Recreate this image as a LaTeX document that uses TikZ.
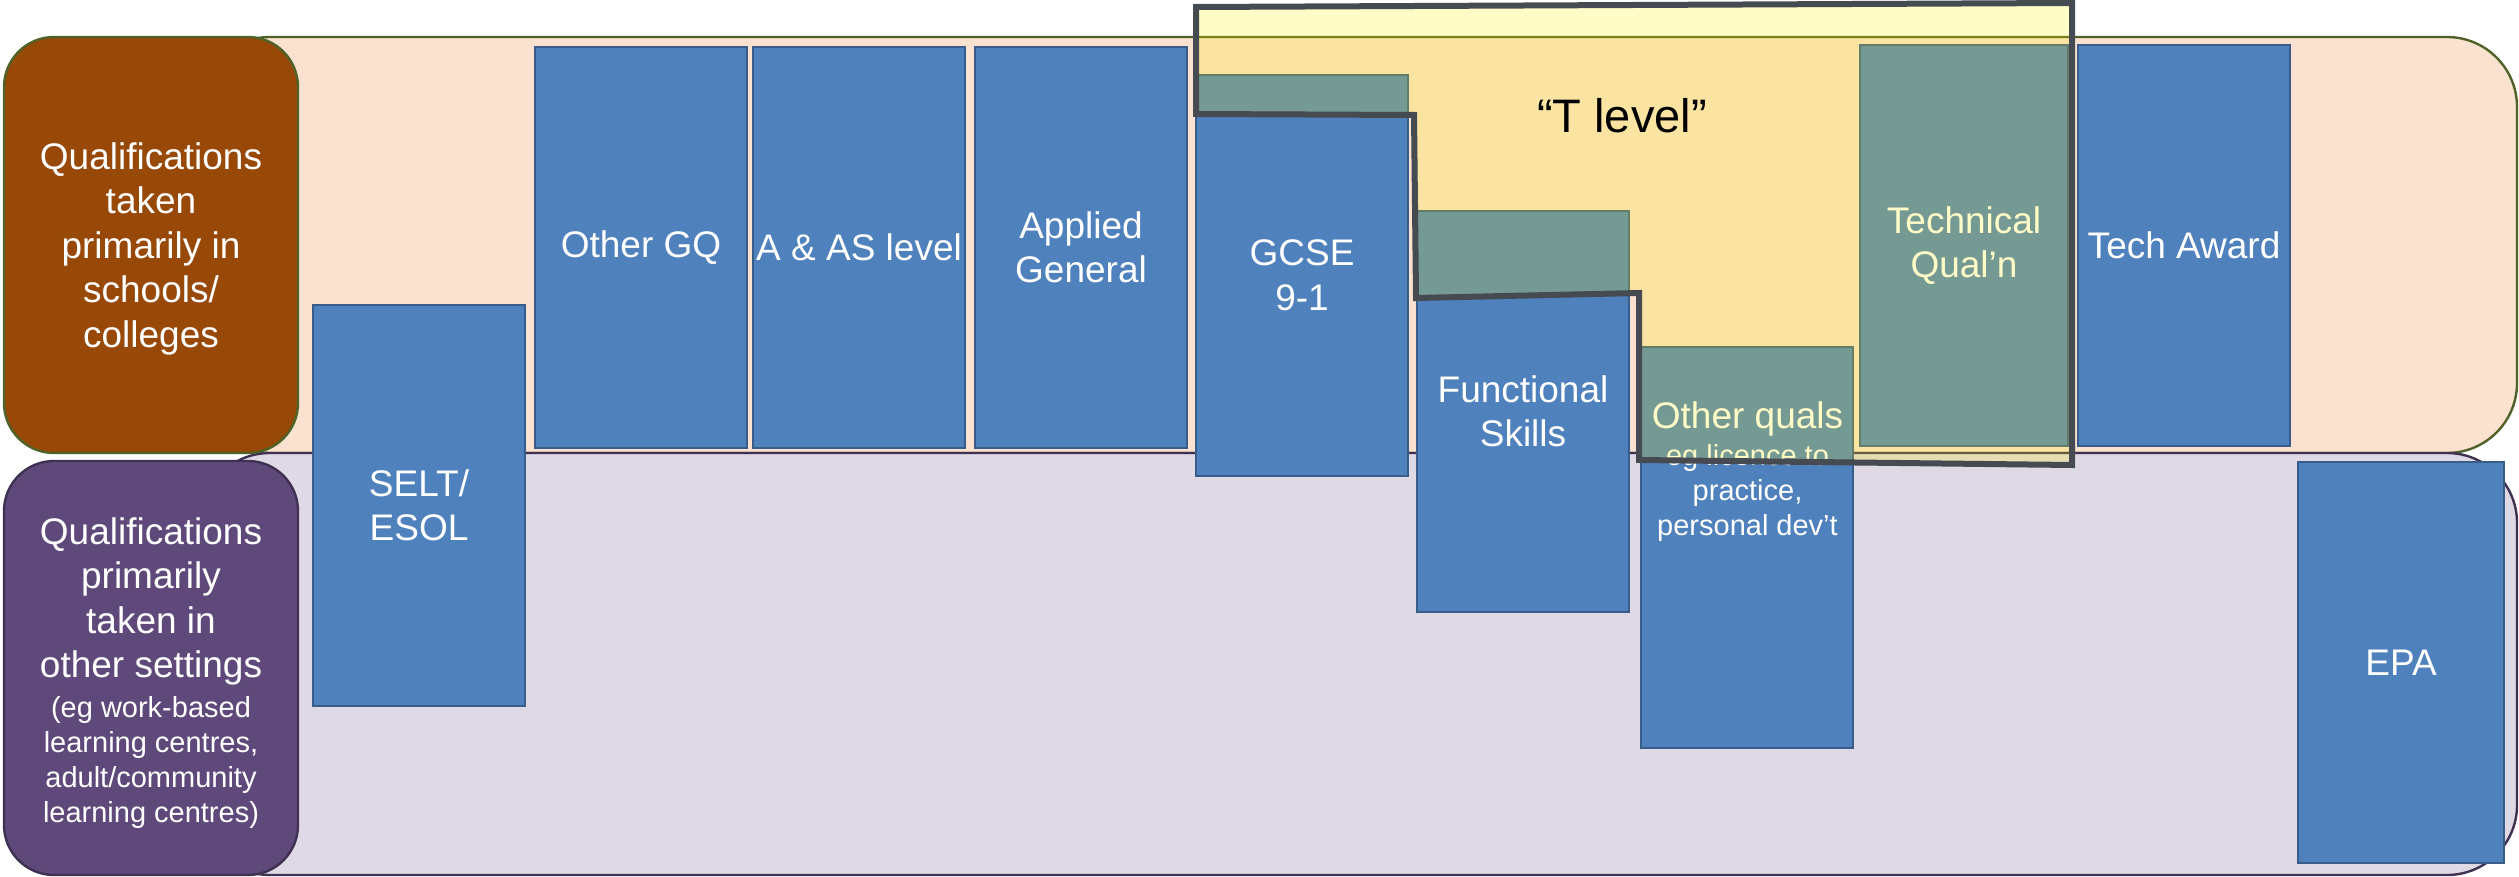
\documentclass[tikz,border=0pt]{standalone}
\usepackage{fontspec}
\setmainfont{Liberation Sans}
\definecolor{peach}{HTML}{FAE1D0}
\definecolor{peachline}{HTML}{4F6228}
\definecolor{lav}{HTML}{DFD9E6}
\definecolor{lavline}{HTML}{3F3151}
\definecolor{brownbox}{HTML}{984807}
\definecolor{purplebox}{HTML}{5F497A}
\definecolor{qblue}{HTML}{4F81BD}
\definecolor{qblueline}{HTML}{385D8A}
\definecolor{tline}{HTML}{464B52}
\newcommand\qbigfont{\fontsize{18.5}{22.25}\selectfont}
\newcommand\qsmallfont{\fontsize{14.5}{17.6}\selectfont}
\newcommand\qtfont{\fontsize{23.5}{28}\selectfont}
\tikzset{
  band/.style={line width=1.2pt, rounded corners=35pt},
  qbox/.style={draw=qblueline, fill=qblue, line width=1.2pt, minimum width=106pt,
    minimum height=200.5pt, inner sep=0pt, outer sep=0pt, anchor=north west,
    text=white, align=center, font=\qbigfont},
  labelbox/.style={line width=1.2pt, rounded corners=25pt, minimum width=147pt,
    inner sep=0pt, outer sep=0pt, text=white, align=center, font=\qbigfont},
  qtext/.style={text=white, align=center, inner sep=0pt, outer sep=0pt},
  tlevelzone/.style={fill=yellow, fill opacity=0.22, draw=tline, line width=3pt}
}
\begin{document}
\begin{tikzpicture}[x=0.5pt,y=-0.5pt]
\useasboundingbox (0,0) rectangle (2519,877);
% bands
\draw[band, fill=peach, draw=peachline] (200,37) rectangle (2517,453);
\draw[band, fill=lav, draw=lavline] (200,453) rectangle (2517,875);
% label boxes
\node[labelbox, fill=brownbox, draw=peachline, minimum height=208pt] (school) at (151,245) {};
\node[qtext, font=\qbigfont, anchor=north] (schooltext) at (151,142.5)
  {Qualifications\\taken\\primarily in\\schools/\\colleges};
\node[labelbox, fill=purplebox, draw=lavline, minimum height=207pt] (other) at (151,668) {};
\node[qtext, font=\qbigfont, anchor=north] (othertext) at (151,517.5)
  {Qualifications\\primarily\\taken in\\other settings};
\node[qtext, font=\qsmallfont, anchor=north] (othersmall) at (151,696)
  {(eg work-based\\learning centres,\\adult/community\\learning centres)};
% qualification boxes
\node[qbox] (selt) at (313,305) {SELT/\\ESOL};
\node[qbox] (gq) at (535,47) {Other GQ};
\node[qbox] (aas) at (753,47) {A \& AS level};
\node[qbox] (app) at (975,47) {Applied\\General};
\node[qbox] (gcse) at (1196,75) {GCSE\\9-1};
\node[qbox] (fs) at (1417,211) {Functional\\Skills};
\node[qbox] (oq) at (1641,347) {};
\node[qtext, font=\qbigfont, anchor=base] (oqtitle) at (1747.5,428) {Other quals};
\node[qtext, font=\qsmallfont, anchor=north] (oqsmall) at (1747.5,444)
  {eg licence to\\practice,\\personal dev’t};
\node[qbox, minimum width=104pt] (tq) at (1860,45) {Technical\\Qual’n};
\node[qbox] (ta) at (2078,45) {Tech Award};
\node[qbox, minimum width=103pt] (epa) at (2298,462) {EPA};
% T level zone
\draw[tlevelzone] (1196,7) -- (2072,3) -- (2072,465) -- (1639,460) -- (1639,293)
  -- (1416,298) -- (1414,115) -- (1196,114) -- cycle;
\node[anchor=base, inner sep=0pt, font=\qtfont] (tlevel) at (1622,133) {“T level”};
\end{tikzpicture}
\end{document}
